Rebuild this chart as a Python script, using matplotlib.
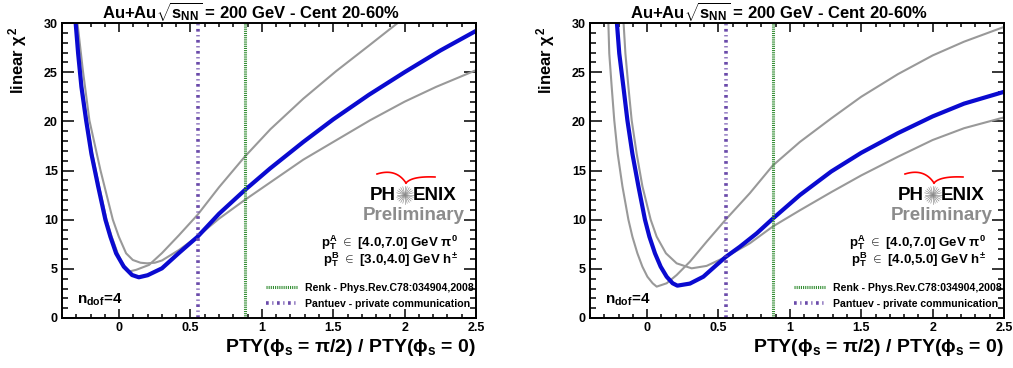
import numpy as np
import matplotlib
matplotlib.use("Agg")
import matplotlib.pyplot as plt
from matplotlib.ticker import MultipleLocator

plt.rcParams['font.family'] = ['Liberation Sans', 'DejaVu Sans']
plt.rcParams['mathtext.fontset'] = 'custom'
plt.rcParams['mathtext.rm'] = 'Liberation Sans:bold'
plt.rcParams['mathtext.it'] = 'Liberation Sans:bold'
plt.rcParams['mathtext.bf'] = 'Liberation Sans:bold'

W, H = 1013, 368

# ---- data ----
# left panel: pT^B in [3.0,4.0]
left_blue_x = [-0.306, -0.287, -0.264, -0.231, -0.194, -0.147, -0.096, -0.061, -0.021, 0.033, 0.091,
               0.138, 0.2, 0.3, 0.418, 0.55, 0.7, 0.88, 1.057, 1.29, 1.5, 1.75, 2.0, 2.25, 2.5]
left_blue_y = [30.3, 26.9, 23.5, 20.1, 16.7, 13.4, 10.0, 8.27, 6.58, 5.22, 4.37,
               4.14, 4.35, 5.05, 6.6, 8.27, 10.6, 13.0, 15.2, 17.9, 20.2, 22.7, 25.0, 27.2, 29.2]
left_hi_x = [-0.300, -0.282, -0.259, -0.226, -0.188, -0.140, -0.088, -0.052, -0.010, 0.025, 0.068,
             0.12, 0.21, 0.3, 0.418, 0.55, 0.7, 0.88, 1.06, 1.29, 1.52, 1.75, 1.96]
left_hi_y = [30.3, 26.9, 23.5, 20.1, 16.7, 13.4, 10.0, 8.27, 6.58, 5.5, 4.72,
             4.9, 5.4, 6.6, 8.4, 10.5, 13.3, 16.4, 19.2, 22.3, 25.1, 27.7, 30.1]
left_lo_x = [-0.294, -0.254, -0.208, -0.131, -0.044, -0.002, 0.049, 0.096, 0.15, 0.196, 0.25, 0.3,
             0.418, 0.55, 0.7, 0.88, 1.07, 1.29, 1.5, 1.757, 2.0, 2.22, 2.5]
left_lo_y = [30.3, 25.2, 20.1, 15.05, 10.0, 8.27, 6.58, 5.9, 5.62, 5.56, 5.62, 5.85,
             6.9, 8.3, 10.1, 12.0, 13.9, 16.1, 17.9, 20.1, 22.0, 23.5, 25.2]

# right panel: pT^B in [4.0,5.0]
right_blue_x = [-0.213, -0.195, -0.166, -0.138, -0.103, -0.061, -0.015, 0.016, 0.055, 0.095, 0.137,
                0.179, 0.212, 0.30, 0.394, 0.487, 0.55, 0.65, 0.767, 0.88, 1.07, 1.29, 1.5, 1.757,
                2.0, 2.22, 2.5]
right_blue_y = [30.3, 26.9, 23.5, 20.1, 16.7, 13.4, 10.0, 8.27, 6.58, 5.22, 4.2,
                3.53, 3.29, 3.5, 4.2, 5.4, 6.2, 7.25, 8.6, 10.1, 12.5, 14.9, 16.8, 18.8,
                20.5, 21.8, 23.0]
right_hi_x = [-0.272, -0.265, -0.248, -0.230, -0.206, -0.173, -0.131, -0.103, -0.068, -0.033, 0.002,
              0.039, 0.067, 0.137, 0.207, 0.30, 0.417, 0.55, 0.72, 0.88, 1.07, 1.29, 1.5, 1.757,
              2.0, 2.22, 2.5]
right_hi_y = [30.3, 26.9, 23.5, 20.1, 16.7, 13.4, 10.0, 8.27, 6.58, 5.22, 4.2,
              3.53, 3.19, 3.53, 4.37, 5.73, 7.76, 10.0, 12.7, 15.5, 17.9, 20.3, 22.5, 24.8,
              26.7, 28.1, 29.6]
right_lo_x = [-0.166, -0.152, -0.131, -0.108, -0.073, -0.033, 0.025, 0.067, 0.132, 0.207, 0.312,
              0.417, 0.55, 0.72, 0.88, 1.07, 1.29, 1.5, 1.757, 2.0, 2.22, 2.5]
right_lo_y = [30.3, 26.9, 23.5, 20.1, 16.7, 13.4, 10.0, 8.27, 6.58, 5.56, 5.05,
              5.3, 6.2, 7.6, 9.3, 10.95, 12.8, 14.5, 16.4, 18.1, 19.3, 20.4]

renk_x = 0.88
pantuev_x = 0.55
ptA_label = r"$p_{T}^{A}$ $\in$ [4.0,7.0] GeV $\pi^{0}$"
ptB_labels = [r"$p_{T}^{B}$ $\in$ [3.0,4.0] GeV h$^{\pm}$",
              r"$p_{T}^{B}$ $\in$ [4.0,5.0] GeV h$^{\pm}$"]
title = r"Au+Au$\sqrt{s_{NN}}$ = 200 GeV - Cent 20-60%"
renk_label = "Renk - Phys.Rev.C78:034904,2008"
pantuev_label = "Pantuev - private communication"

panels = [
    (left_blue_x, left_blue_y, left_hi_x, left_hi_y, left_lo_x, left_lo_y),
    (right_blue_x, right_blue_y, right_hi_x, right_hi_y, right_lo_x, right_lo_y),
]


def fx(px):
    return px / W


def fy(py):
    return 1 - py / H


def bez(p0, p1, p2, n=30):
    t = np.linspace(0, 1, n)[:, None]
    return (1 - t) ** 2 * np.array(p0) + 2 * (1 - t) * t * np.array(p1) + t ** 2 * np.array(p2)


def phenix_logo(fig, x0):
    # red swoosh over the letters
    for seg in [bez((x0 + 7, 174), (x0 + 26, 168), (x0 + 36, 183)),
                bez((x0 + 36, 183), (x0 + 42, 176), (x0 + 65, 177))]:
        fig.add_artist(plt.Line2D(fx(seg[:, 0]), fy(seg[:, 1]), color='red', lw=1.2))
    fig.text(fx(x0 + 26), fy(195), "PH", ha='right', va='center', fontsize=13.5,
             fontweight='bold', color='black')
    fig.text(fx(x0 + 43), fy(195), "ENIX", ha='left', va='center', fontsize=13.5,
             fontweight='bold', color='black')
    cx, cy = x0 + 35, 195
    for a in np.linspace(0, np.pi, 13)[:-1]:
        dx, dy = 8.5 * np.cos(a), 8.5 * np.sin(a)
        fig.add_artist(plt.Line2D([fx(cx - dx), fx(cx + dx)], [fy(cy - dy), fy(cy + dy)],
                                  color='#8a8a8a', lw=0.45))
    fig.text(fx(x0 + 95), fy(215), "Preliminary", ha='right', va='center', fontsize=13.5,
             fontweight='bold', color='#8c8c8c')


fig = plt.figure(figsize=(W / 100, H / 100), dpi=100)

for i, (bx, by, hx, hy, lx, ly) in enumerate(panels):
    off = 528 * i
    ax = fig.add_axes([fx(62 + off), fy(318), 414 / W, 295 / H])
    ax.plot(hx, hy, color='#999999', lw=1.5, solid_joinstyle='round')
    ax.plot(lx, ly, color='#999999', lw=1.5, solid_joinstyle='round')
    ax.plot(bx, by, color='#0a0ad0', lw=3.0, solid_joinstyle='round')
    l1 = ax.axvline(renk_x, color='#2e8b2e', lw=2.2, ls=(0, (0.35, 0.35)), label=renk_label)
    l2 = ax.axvline(pantuev_x, color='#6a4aaa', lw=2.6, ls=(0, (0.75, 1.0, 0.3, 1.0)),
                    label=pantuev_label)
    ax.set_xlim(-0.4, 2.5)
    ax.set_ylim(0, 30)
    ax.xaxis.set_major_locator(MultipleLocator(0.5))
    ax.xaxis.set_minor_locator(MultipleLocator(0.1))
    ax.yaxis.set_major_locator(MultipleLocator(5))
    ax.yaxis.set_minor_locator(MultipleLocator(1))
    ax.xaxis.set_major_formatter(plt.FuncFormatter(lambda v, p: f"{v:g}"))
    ax.tick_params(axis='both', which='both', direction='in', top=True, right=True,
                   width=1.1, labelsize=9, pad=3)
    ax.tick_params(axis='y', which='major', length=8.6)
    ax.tick_params(axis='y', which='minor', length=4.3)
    ax.tick_params(axis='x', which='major', length=6.5)
    ax.tick_params(axis='x', which='minor', length=3.2)
    for lab in ax.get_xticklabels() + ax.get_yticklabels():
        lab.set_fontweight('bold')
    for sp in ax.spines.values():
        sp.set_linewidth(1.4)

    leg = ax.legend(handles=[l1, l2], loc='lower right', bbox_to_anchor=(1.0, 0.025),
                    frameon=False, fontsize=7.6, handlelength=3.0, handletextpad=0.7,
                    labelspacing=0.55, borderpad=0.1, borderaxespad=0.1)
    for t in leg.get_texts():
        t.set_fontweight('bold')

    ax.text(0.036, 0.061, r"$n_{dof}$=4", transform=ax.transAxes, ha='left', va='center',
            fontsize=11, fontweight='bold')
    fig.text(fx(458 + off), fy(243), ptA_label, ha='right', va='center', fontsize=9.5,
             fontweight='bold')
    fig.text(fx(458 + off), fy(260), ptB_labels[i], ha='right', va='center', fontsize=9.5,
             fontweight='bold')
    phenix_logo(fig, 370 + off)

    fig.text(fx(251 + off), fy(11), title, ha='center', va='center', fontsize=12,
             fontweight='bold')
    fig.text(fx(18 + off), fy(27), r"linear $\chi^{2}$", rotation=90, ha='center', va='top',
             fontsize=12, fontweight='bold')
    fig.text(fx(476 + off), fy(347), r"PTY($\phi_{s}$ = $\pi$/2) / PTY($\phi_{s}$ = 0)",
             ha='right', va='center', fontsize=14, fontweight='bold')

fig.savefig("out.png", dpi=100)
